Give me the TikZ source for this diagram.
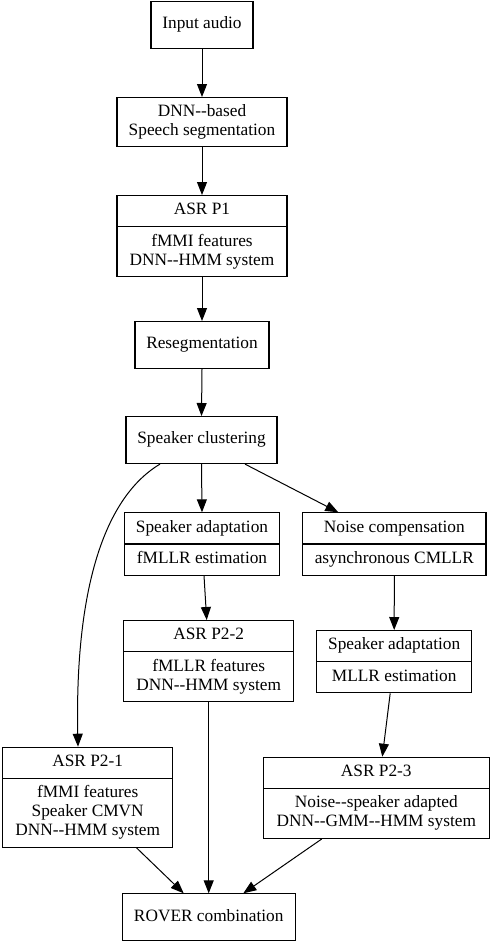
\documentclass[tikz,border=0pt]{standalone}
\usepackage{fontspec}
\setmainfont{Liberation Serif}
\usetikzlibrary{shapes.multipart,arrows.meta}

\newcommand{\lines}[1]{\begin{tabular}{@{}c@{}}#1\end{tabular}}

\tikzset{
	box/.style={draw, line width=1.1pt, minimum height=47pt, inner ysep=5.5pt, inner xsep=5pt, font=\fontsize{17.3}{19}\selectfont},
	rec/.style={draw, line width=1.1pt, rectangle split, rectangle split parts=2, inner ysep=5.5pt, inner xsep=5pt, font=\fontsize{17.3}{19}\selectfont},
	link/.style={-{Triangle[length=13pt,width=10pt]}, line width=1pt}
}

\begin{document}
\begin{tikzpicture}[x=1pt, y=-1pt]
\useasboundingbox (0,0) rectangle (492,942);

\node (input) at (202,1) [box, anchor=north, minimum width=102pt] {\lines{Input audio}};
\node (segm) at (202,97) [box, anchor=north, minimum width=170pt] {\lines{DNN-{}-based\\Speech segmentation}};
\node (asrone) at (202,195) [rec, anchor=north, minimum width=170pt] {\lines{ASR P1}\nodepart{second}\lines{fMMI features\\DNN-{}-HMM system}};
\node (reseg) at (202,321) [box, anchor=north, minimum width=134pt] {\lines{Resegmentation}};
\node (clust) at (201.5,416) [box, anchor=north, minimum width=151pt] {\lines{Speaker clustering}};

\node (adapt) at (202,512.3) [rec, anchor=north, minimum width=154.6pt] {\lines{Speaker adaptation}\nodepart{second}\lines{fMLLR estimation}};
\node (noise) at (394.3,512.3) [rec, anchor=north, minimum width=183.3pt] {\lines{Noise compensation}\nodepart{second}\lines{asynchronous CMLLR}};

\node (asrtwob) at (208.7,620) [rec, anchor=north, minimum width=170pt] {\lines{ASR P2-2}\nodepart{second}\lines{fMLLR features\\DNN-{}-HMM system}};
\node (adaptb) at (394.2,630) [rec, anchor=north, minimum width=155pt] {\lines{Speaker adaptation}\nodepart{second}\lines{MLLR estimation}};

\node (asrtwoa) at (87.7,746.7) [rec, anchor=north, minimum width=170pt] {\lines{ASR P2-1}\nodepart{second}\lines{fMMI features\\Speaker CMVN\\DNN-{}-HMM system}};
\node (asrtwoc) at (376.3,756.7) [rec, anchor=north, minimum width=226pt] {\lines{ASR P2-3}\nodepart{second}\lines{Noise-{}-speaker adapted\\DNN-{}-GMM-{}-HMM system}};

\node (rover) at (208.7,893.3) [box, anchor=north, minimum width=172.7pt] {\lines{ROVER combination}};

\draw [link] (input.south) to (segm.north);
\draw [link] (segm.south) to (asrone.north);
\draw [link] (asrone.south) to (reseg.north);
\draw [link] (reseg.south) to (clust.north);

\draw [link] (clust.south) to (adapt.north);
\draw [link] ([xshift=43.5pt]clust.south) to ([xshift=-56pt]noise.north);
\draw [link] ([xshift=-41.5pt]clust.south) .. controls (100,500) and (75,600) .. ([xshift=-9.7pt]asrtwoa.north);

\draw [link] ([xshift=2pt]adapt.south) to ([xshift=-2pt]asrtwob.north);
\draw [link] (noise.south) to (adaptb.north);
\draw [link] ([xshift=-4pt]adaptb.south) to ([xshift=6pt]asrtwoc.north);

\draw [link] ([xshift=49pt]asrtwoa.south) to ([xshift=-25pt]rover.north);
\draw [link] (asrtwob.south) to (rover.north);
\draw [link] ([xshift=-54.6pt]asrtwoc.south) to ([xshift=34.6pt]rover.north);

\end{tikzpicture}
\end{document}
